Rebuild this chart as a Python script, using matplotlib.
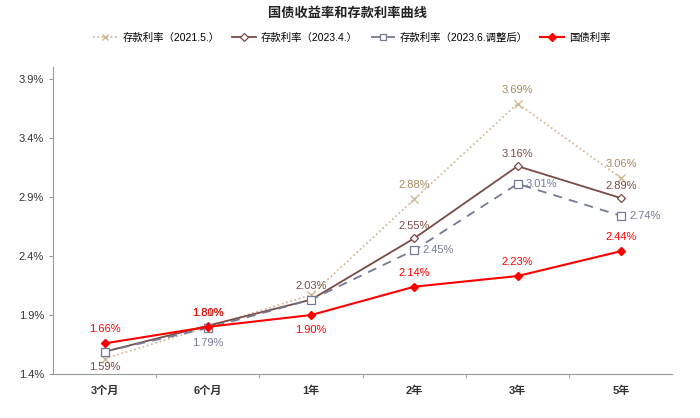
import matplotlib
matplotlib.use("Agg")
import matplotlib.pyplot as plt

plt.rcParams['font.family'] = ['Liberation Sans', 'Noto Sans CJK SC', 'DejaVu Sans']

categories = ['3个月', '6个月', '1年', '2年', '3年', '5年']
dep_2021 = [1.53, 1.80, 2.07, 2.88, 3.69, 3.06]
dep_2023_4 = [1.59, 1.81, 2.03, 2.55, 3.16, 2.89]
dep_2023_6 = [1.59, 1.79, 2.03, 2.45, 3.01, 2.74]
gov = [1.66, 1.80, 1.90, 2.14, 2.23, 2.44]
yticks = [1.4, 1.9, 2.4, 2.9, 3.4, 3.9]

c_tan = '#CDB38A'
c_tan_txt = '#A88A5C'
c_brown = '#7A4B45'
c_gray = '#737A96'
c_red = '#FF0000'

fig = plt.figure(figsize=(7, 4.18), dpi=100)
ax = fig.add_axes([0.0757, 0.105, 0.885, 0.735])
x = list(range(len(categories)))

ax.plot(x, dep_2021, linestyle=':', color=c_tan, lw=1.2, marker='x', ms=5.5, mew=0.9,
        label='存款利率（2021.5.）')
ax.plot(x, dep_2023_4, linestyle='-', color=c_brown, lw=1.3, marker='D', ms=4.5, mfc='white',
        mec=c_brown, mew=0.9, label='存款利率（2023.4.）')
ax.plot(x, dep_2023_6, linestyle=(0, (5, 4)), color=c_gray, lw=1.3, marker='s', ms=5.5, mfc='white',
        mec=c_gray, mew=0.9, label='存款利率（2023.6.调整后）')
ax.plot(x, gov, linestyle='-', color=c_red, lw=1.5, marker='D', ms=4.5, mfc=c_red,
        mec=c_red, label='国债利率', zorder=5)

fs = 8
def lab(xi, yi, dx, dy, color, ha='center'):
    ax.annotate(f'{yi:.2f}%', (xi, yi), xytext=(dx, dy), textcoords='offset points',
                ha=ha, va='center', fontsize=fs, color=color)

# tan labels
for i in [3, 4, 5]:
    lab(i, dep_2021[i], 0, 10, c_tan_txt)
# brown labels
lab(0, dep_2023_4[0], 0, -11, c_brown)
lab(1, dep_2023_4[1], 0, 9, c_brown)
lab(2, dep_2023_4[2], 0, 10, c_brown)
for i in [3, 4, 5]:
    lab(i, dep_2023_4[i], 0, 9, c_brown)
# gray labels
lab(1, dep_2023_6[1], 0, -11, c_gray)
for i in [3, 4, 5]:
    lab(i, dep_2023_6[i], 6, 0, c_gray, ha='left')
# red labels
lab(0, gov[0], 0, 10, c_red)
lab(1, gov[1], 0, 10, c_red)
lab(2, gov[2], 0, -11, c_red)
for i in [3, 4, 5]:
    lab(i, gov[i], 0, 10, c_red)

ax.set_xlim(-0.5, len(categories) - 0.5)
ax.set_ylim(1.4, 4.0)
ax.set_yticks(yticks)
ax.set_yticklabels([f'{v:.1f}%' for v in yticks], fontsize=8, color='#333333')
ax.set_xticks(x)
ax.set_xticklabels(categories, fontsize=8, fontweight='bold', color='#333333')
ax.set_xticks([i + 0.5 for i in x[:-1]], minor=True)
ax.tick_params(axis='x', which='major', length=0, pad=8)
ax.tick_params(axis='x', which='minor', length=3, color='#999999')
ax.tick_params(axis='y', length=3, color='#999999')
for s in ['top', 'right']:
    ax.spines[s].set_visible(False)
for s in ['left', 'bottom']:
    ax.spines[s].set_color('#999999')

fig.text(0.497, 0.968, '国债收益率和存款利率曲线', ha='center', va='center',
         fontsize=9.5, fontweight='bold', color='#222222')
fig.legend(loc='center', bbox_to_anchor=(0.503, 0.909), ncol=4, frameon=False,
           fontsize=7.5, handlelength=2.3, columnspacing=1.2, handletextpad=0.5,
           markerscale=0.8)

fig.savefig('out.png', dpi=100)
